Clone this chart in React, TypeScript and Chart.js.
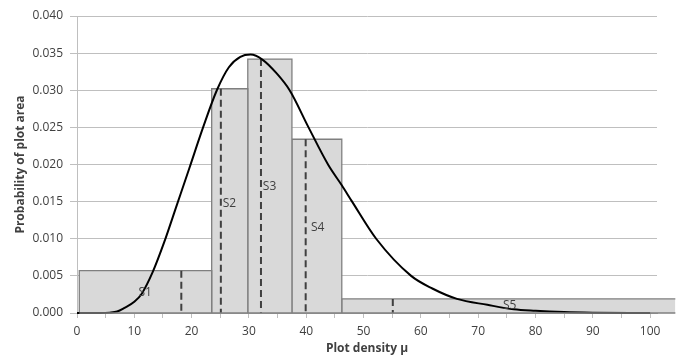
import React, { useEffect, useRef } from 'react';
import { Chart, registerables } from 'chart.js';

Chart.register(...registerables);

// Histogram bins (edges along plot density axis) and their probabilities
const binEdges = [0.4, 23.5, 29.8, 37.5, 46.2, 104.4];
const binHeights = [0.0057, 0.0302, 0.0342, 0.0234, 0.0019];
const binNames = ['S1', 'S2', 'S3', 'S4', 'S5'];
// Dashed marker positions inside each bin
const markerX = [18.2, 25.1, 32.1, 39.9, 55.1];
// Bin label positions
const labelX = [11.9, 26.6, 33.6, 42.0, 75.5];
const labelY = [0.0027, 0.0148, 0.0170, 0.0115, 0.0010];
// Fitted density curve
const curveX = [0, 4, 5.7, 7, 8.3, 10, 11.3, 13.2, 15.2, 17.4, 19.6, 22.0, 24.4, 26.5, 28.5, 30.3, 32.4, 34.8, 37.1, 40.4, 43.8, 46.2, 48.0, 52.2, 58.3, 62, 66.3, 71.6, 76.2, 80, 85, 90, 100];
const curveY = [0, 0, 0.00005, 0.0002, 0.0007, 0.0015, 0.0026, 0.0055, 0.0095, 0.0145, 0.0195, 0.025, 0.030, 0.0331, 0.0345, 0.0348, 0.0341, 0.0323, 0.030, 0.025, 0.020, 0.0172, 0.015, 0.010, 0.005, 0.0033, 0.0019, 0.0011, 0.0005, 0.0003, 0.00013, 0.00005, 0];
// Axis settings
const xMin = 0;
const xMax = 101.2;
const xStep = 5;
const xLabelEvery = 10;
const yMin = 0;
const yMax = 0.04;
const yStep = 0.005;

const xTitle = 'Plot density μ';
const yTitle = 'Probability of plot area';

const FONT = '"Open Sans", sans-serif';
const TEXT = '#404040';
const GRID = '#bfbfbf';

export default function App() {
  const ref = useRef<HTMLCanvasElement | null>(null);

  useEffect(() => {
    document.body.style.margin = '0';
    const canvas = ref.current;
    if (!canvas) return;

    const curveDs = {
      label: 'curve',
      data: curveX.map((x, i) => ({ x, y: curveY[i] })),
      borderColor: '#000000',
      borderWidth: 2,
      pointRadius: 0,
      fill: false,
      cubicInterpolationMode: 'monotone' as const,
      clip: false as any,
    };

    const markerDs = markerX.map((mx, i) => ({
      label: 'marker ' + binNames[i],
      data: [
        { x: mx, y: binHeights[i] },
        { x: mx, y: 0 },
      ],
      borderColor: '#404040',
      borderWidth: 2,
      borderDash: [7, 4],
      pointRadius: 0,
      fill: false,
      clip: false as any,
    }));

    const barDs = binHeights.map((h, i) => {
      const x1 = binEdges[i];
      const x2 = binEdges[i + 1];
      return {
        label: binNames[i],
        data: [
          { x: x1, y: 0 },
          { x: x1, y: h },
          { x: x2, y: h },
          { x: x2, y: 0 },
        ],
        borderColor: '#7f7f7f',
        borderWidth: 1.3,
        backgroundColor: '#d9d9d9',
        pointRadius: 0,
        fill: 'origin' as const,
        tension: 0,
        clip: false as any,
      };
    });

    let savedArea: any = null;
    const widenPlugin = {
      id: 'widenArea',
      beforeDatasetsDraw(chart: any) {
        savedArea = chart.chartArea;
        const xs = chart.scales.x;
        const farRight = Math.max(savedArea.right, xs.getPixelForValue(binEdges[binEdges.length - 1]) + 2);
        chart.chartArea = { ...savedArea, right: farRight, width: farRight - savedArea.left };
      },
      afterDatasetsDraw(chart: any) {
        if (savedArea) chart.chartArea = savedArea;
        const ctx = chart.ctx;
        const xs = chart.scales.x;
        const ys = chart.scales.y;
        // baseline under the bins
        ctx.save();
        ctx.strokeStyle = '#7f7f7f';
        ctx.lineWidth = 1.3;
        ctx.beginPath();
        const by = ys.getPixelForValue(0);
        ctx.moveTo(xs.getPixelForValue(binEdges[0]), by);
        ctx.lineTo(xs.getPixelForValue(binEdges[binEdges.length - 1]), by);
        ctx.stroke();
        ctx.fillStyle = TEXT;
        ctx.font = '12px ' + FONT;
        ctx.textAlign = 'center';
        ctx.textBaseline = 'middle';
        binNames.forEach((n, i) => {
          ctx.fillText(n, xs.getPixelForValue(labelX[i]), ys.getPixelForValue(labelY[i]));
        });
        ctx.restore();
      },
    };

    const chart = new Chart(canvas, {
      type: 'line',
      data: { datasets: [curveDs, ...markerDs, ...barDs] as any },
      options: {
        responsive: false,
        animation: false,
        layout: { padding: { top: 16, right: 26, left: 0, bottom: 0 } },
        plugins: {
          legend: { display: false },
          tooltip: { enabled: false },
        },
        scales: {
          x: {
            type: 'linear',
            min: xMin,
            max: xMax,
            afterFit(scale: any) {
              scale.height = 48;
            },
            ticks: {
              stepSize: xStep,
              includeBounds: false,
              autoSkip: false,
              maxRotation: 0,
              padding: 6,
              color: TEXT,
              font: { family: FONT, size: 12 },
              callback: (v: any) => (Math.abs(v % xLabelEvery) < 1e-6 ? String(v) : ''),
            },
            grid: {
              drawOnChartArea: false,
              drawTicks: true,
              tickLength: 5,
              color: GRID,
              lineWidth: 1,
            },
            border: { display: true, color: '#a6a6a6', width: 1 },
            title: {
              display: true,
              text: xTitle,
              color: TEXT,
              font: { family: FONT, size: 12, weight: 'bold' },
              padding: { top: 0, bottom: 5 },
            },
          },
          y: {
            type: 'linear',
            min: yMin,
            max: yMax,
            afterFit(scale: any) {
              scale.width = 77;
            },
            ticks: {
              stepSize: yStep,
              padding: 7,
              color: TEXT,
              font: { family: FONT, size: 12 },
              callback: (v: any) => Number(v).toFixed(3),
            },
            grid: {
              color: GRID,
              lineWidth: 1,
              drawTicks: true,
              tickLength: 7,
            },
            border: { display: true, color: GRID, width: 1 },
            title: {
              display: true,
              text: yTitle,
              color: TEXT,
              font: { family: FONT, size: 12, weight: 'bold' },
              padding: { top: 13, bottom: 0 },
            },
          },
        },
      },
      plugins: [widenPlugin],
    });

    return () => {
      chart.destroy();
    };
  }, []);

  return (
    <div style={{ width: 683, height: 361, background: '#ffffff' }}>
      <canvas ref={ref} width={683} height={361} />
    </div>
  );
}
